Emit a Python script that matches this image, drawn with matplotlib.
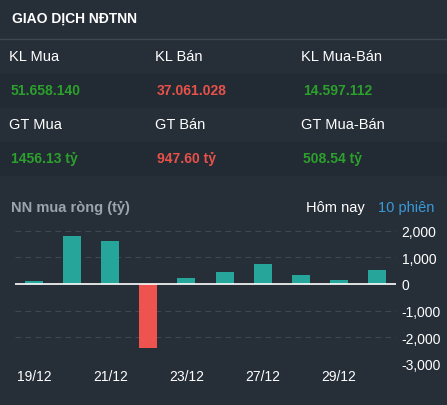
import matplotlib.pyplot as plt
from matplotlib.patches import Rectangle

plt.rcParams['font.family'] = ['Liberation Sans', 'DejaVu Sans']

dates = ['19/12', '20/12', '21/12', '22/12', '23/12', '26/12', '27/12', '28/12', '29/12', '30/12']
net_buy = [100, 1810, 1610, -2425, 225, 440, 750, 340, 150, 510]
yticks = [2000, 1000, 0, -1000, -2000, -3000]

row_labels = [['KL Mua', 'KL Bán', 'KL Mua-Bán'], ['GT Mua', 'GT Bán', 'GT Mua-Bán']]
row_values = [['51.658.140', '37.061.028', '14.597.112'], ['1456.13 tỷ', '947.60 tỷ', '508.54 tỷ']]
value_colors = ['#2ca02c', '#e8524a', '#2ca02c']

W, H = 447, 406
bg = '#262e38'
fig = plt.figure(figsize=(W / 100, H / 100), dpi=100, facecolor=bg)

def fy(py):
    return 1 - py / H

# row bands
for top, bot, c in [(75, 108, '#222a33'), (143, 176, '#222a33')]:
    fig.patches.append(Rectangle((0, fy(bot)), 1, (bot - top) / H, transform=fig.transFigure, color=c, zorder=0))
fig.add_artist(plt.Line2D([0, 1], [fy(40), fy(40)], color='#3d4651', lw=1))

fig.text(12 / W, fy(19), 'GIAO DỊCH NĐTNN', color='white', fontsize=10, weight='bold', va='center')
xcols = [9, 155, 301]
for r in range(2):
    ly = 57 + r * 68
    for c in range(3):
        fig.text(xcols[c] / W, fy(ly), row_labels[r][c], color='white', fontsize=10.5, va='center')
        fig.text((xcols[c] + 2) / W, fy(ly + 34), row_values[r][c], color=value_colors[c],
                 fontsize=10, weight='bold', va='center')

fig.text(11 / W, fy(208), 'NN mua ròng (tỷ)', color='#9aa3ae', fontsize=10.5, weight='bold', va='center')
fig.text(306 / W, fy(208), 'Hôm nay', color='white', fontsize=10.5, va='center')
fig.text(378 / W, fy(208), '10 phiên', color='#3a9ad9', fontsize=10.5, va='center')

px_per_unit = 26.6 / 1000
ymin, ymax = -3000, 2400
bottom_px = 364.7
ax_h = (ymax - ymin) * px_per_unit
ax = fig.add_axes([15 / W, (H - bottom_px) / H, (396 - 15) / W, ax_h / H])
ax.set_facecolor(bg)
x = list(range(len(dates)))
colors = ['#26a69a' if v >= 0 else '#ef5350' for v in net_buy]
ax.bar(x, net_buy, width=0.47, color=colors, zorder=3)
ax.set_xlim(-0.5, len(dates) - 0.5)
ax.set_ylim(ymin, ymax)
for t in yticks:
    if t == 0:
        ax.axhline(0, color='white', lw=1.2, zorder=4)
    else:
        ax.axhline(t, color='#3e4853', lw=0.8, ls=(0, (5, 4)), zorder=1)
ax.yaxis.tick_right()
ax.set_yticks(yticks)
ax.set_yticklabels([f'{t:,}' for t in yticks], color='white', fontsize=10)
ax.set_xticks(x[::2])
ax.set_xticklabels(dates[::2], color='white', fontsize=10)
ax.tick_params(length=0, pad=4)
for s in ax.spines.values():
    s.set_visible(False)

fig.savefig('out.png', dpi=100, facecolor=bg)
